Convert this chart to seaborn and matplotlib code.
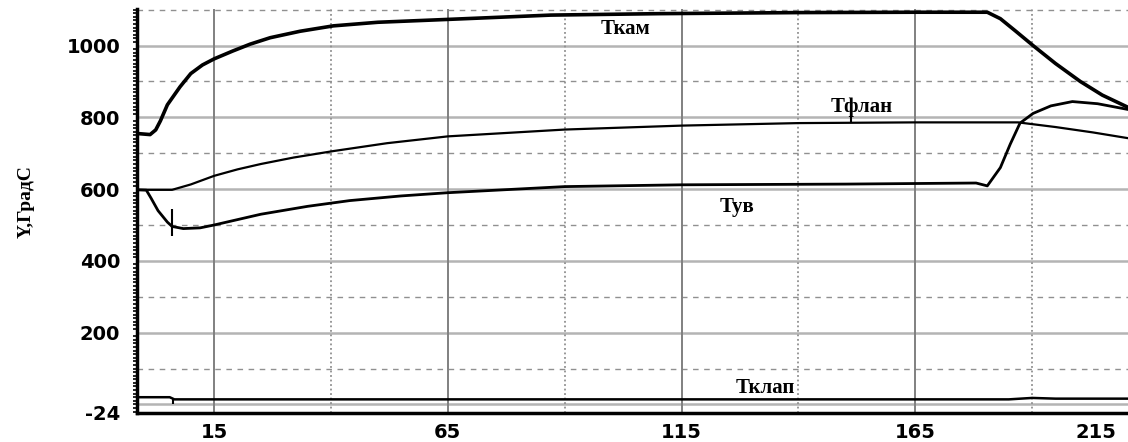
import matplotlib
matplotlib.use("Agg")
import matplotlib.pyplot as plt
import seaborn as sns

# time axis and temperatures
t_kam = [-1.5, 1.3, 2.5, 3.5, 5, 7.7, 10, 12.5, 15, 19, 22.7, 27, 33.4, 40.5, 50, 65, 87, 110,
         140, 165, 180.4, 183.2, 186.5, 190.2, 195, 200.3, 205, 210.5]
T_kam = [755, 752, 765, 790, 835, 885, 922, 946, 963, 985, 1004, 1022, 1040, 1055, 1065, 1073,
         1085, 1089, 1092, 1093, 1093, 1075, 1040, 1000, 950, 900, 862, 828]

t_flan = [-1.5, 6, 10, 15, 20, 25, 32, 40.5, 52, 65, 90, 115, 140, 165, 187, 195, 203, 210.5]
T_flan = [598, 598, 613, 637, 655, 670, 688, 706, 728, 747, 766, 777, 784, 786, 786, 773, 758, 742]

t_uv = [-1.5, 0.5, 1.5, 3, 5, 6, 8.4, 12, 15, 20, 25, 35, 44, 55, 65, 90, 115, 150, 178,
        180.4, 183.2, 185.3, 187.4, 190.2, 194, 198.6, 204, 210.5]
T_uv = [598, 597, 575, 540, 508, 496, 490, 492, 500, 515, 530, 552, 568, 581, 590, 607, 612,
        614, 617, 609, 660, 725, 784, 811, 832, 844, 838, 822]

t_klap = [-1.5, 5.5, 6.5, 185, 190, 195, 210.5]
T_klap = [20, 20, 14, 14, 18, 16, 16]

# cursor marks drawn on the curves
cursor_t = [6.0, 6.2, 151.3]
cursor_lo = [470, 0, 786]
cursor_hi = [545, 15, 816]

y_ticks = [-24, 200, 400, 600, 800, 1000]
x_ticks = [15, 40, 65, 90, 115, 140, 165, 190]
x_labels = ["15", "", "65", "", "115", "", "165", ""]

labels = {"Ткам": (103.1, 1045), "Тфлан": (153.6, 829), "Тув": (126.9, 549), "Тклап": (132.9, 46)}

sns.set_style("white")
plt.rcParams['font.family'] = ['DejaVu Sans']
plt.rcParams['axes.unicode_minus'] = False
plt.rcParams['text.color'] = 'black'

fig = plt.figure(figsize=(11.28, 4.42), dpi=100)
ax = fig.add_axes([137 / 1128, 29 / 442, 991 / 1128, 404 / 442])

for y in range(0, 1001, 200):
    ax.axhline(y, color='#b4b4b4', lw=1.8, zorder=0)
for y in range(100, 1101, 200):
    ax.axhline(y, color='#909090', lw=1.0, ls=(0, (4, 4)), zorder=0)
for x in [15, 65, 115, 165]:
    ax.axvline(x, color='#808080', lw=1.4, zorder=0)
for x in [40, 90, 140, 190]:
    ax.axvline(x, color='#909090', lw=1.3, ls=(0, (1, 1.5)), zorder=0)

sns.lineplot(x=t_kam, y=T_kam, color='black', lw=2.6, ax=ax, estimator=None, sort=False)
sns.lineplot(x=t_flan, y=T_flan, color='black', lw=1.6, ax=ax, estimator=None, sort=False)
sns.lineplot(x=t_uv, y=T_uv, color='black', lw=2.0, ax=ax, estimator=None, sort=False)
sns.lineplot(x=t_klap, y=T_klap, color='black', lw=1.8, ax=ax, estimator=None, sort=False)
ax.vlines(cursor_t, cursor_lo, cursor_hi, color='black', lw=1.5)

for name, (x, y) in labels.items():
    ax.text(x, y, name, ha='center', va='center', fontsize=15, fontweight='bold',
            family='Liberation Serif', color='black')

ax.set_xlim(-1.5, 210.5)
ax.set_ylim(-24, 1102)
ax.set_yticks(y_ticks)
ax.set_yticks(range(-20, 1101, 10), minor=True)
ax.set_xticks(x_ticks)
ax.set_xticklabels(x_labels)
ax.tick_params(axis='both', colors='black', labelcolor='black')
ax.tick_params(axis='y', which='major', length=10, width=1.8, pad=2, labelsize=14)
ax.tick_params(axis='y', which='minor', length=3, width=1.2, left=True, color='black')
ax.tick_params(axis='x', which='major', length=4, width=1.8, pad=3, labelsize=14)
for lab in ax.get_xticklabels() + ax.get_yticklabels():
    lab.set_fontweight('bold')
ax.text(203.7, -0.025, "215", transform=ax.get_xaxis_transform(), ha='center', va='top',
        fontsize=14, fontweight='bold', color='black')

ax.set_xlabel("")
ax.set_ylabel("")
for side in ['top', 'right']:
    ax.spines[side].set_visible(False)
for side in ['left', 'bottom']:
    ax.spines[side].set_linewidth(2.5)
    ax.spines[side].set_color('black')

fig.text(26 / 1128, 1 - 202 / 442, "Y,ГрадС", rotation=90, ha='center', va='center',
         fontsize=14, fontweight='bold', family='Liberation Serif', color='black')

fig.savefig("out.png", dpi=100)
